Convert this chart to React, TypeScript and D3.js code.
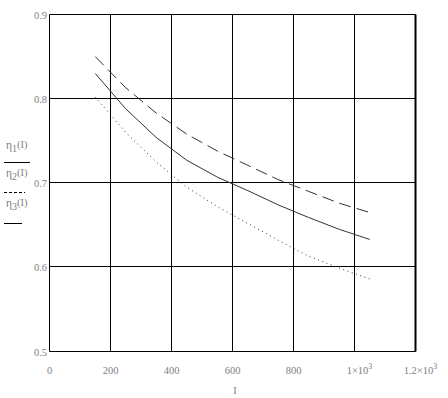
import React from "react";
import * as d3 from "d3";

// current values I
const currents = [150, 250, 350, 450, 550, 650, 750, 850, 950, 1050];
const eta1 = [0.83, 0.788, 0.754, 0.727, 0.707, 0.691, 0.674, 0.659, 0.645, 0.633];
const eta2 = [0.85, 0.813, 0.783, 0.758, 0.738, 0.721, 0.704, 0.69, 0.676, 0.665];
const eta3 = [0.802, 0.76, 0.725, 0.695, 0.672, 0.652, 0.632, 0.613, 0.599, 0.586];

const xTicks = [0, 200, 400, 600, 800, 1000, 1200];
const yTicks = [0.5, 0.6, 0.7, 0.8, 0.9];

const W = 448;
const H = 398;

const x = d3.scaleLinear().domain([0, 1200]).range([49.5, 415.5]);
const y = d3.scaleLinear().domain([0.5, 0.9]).range([351.5, 14.5]);

const labelColor = "#808080";
const font = "'Liberation Serif', 'DejaVu Serif', serif";

const xLabel = (v: number) => {
  if (v === 1000) return { base: "1×10", sup: "3" };
  if (v === 1200) return { base: "1.2×10", sup: "3" };
  return { base: String(v), sup: "" };
};

export default function App() {
  const line = (vals: number[]) =>
    d3
      .line<number>()
      .x((_, i) => x(currents[i]))
      .y((d) => y(d))(vals) || "";

  const series = [
    { vals: eta1, dash: undefined },
    { vals: eta2, dash: "12,6" },
    { vals: eta3, dash: "1,3.5" },
  ];

  return (
    <svg
      width={W}
      height={H}
      style={{ position: "absolute", left: 0, top: 0, background: "#fff" }}
      fontFamily={font}
    >
      {/* grid */}
      <g stroke="#000" strokeWidth={1}>
        {xTicks.map((t) => (
          <line key={"gx" + t} x1={Math.round(x(t)) - 0.5} x2={Math.round(x(t)) - 0.5} y1={y(0.9)} y2={y(0.5)} />
        ))}
        {yTicks.map((t) => (
          <line key={"gy" + t} x1={x(0)} x2={x(1200)} y1={Math.round(y(t)) - 0.5} y2={Math.round(y(t)) - 0.5} />
        ))}
        <line x1={x(1200)} x2={x(1200)} y1={y(0.9)} y2={y(0.5)} strokeWidth={2} />
      </g>

      {/* curves */}
      <g fill="none" stroke="#333" strokeWidth={1}>
        {series.map((s, i) => (
          <path key={i} d={line(s.vals)} strokeDasharray={s.dash} />
        ))}
      </g>

      {/* y tick labels */}
      <g fill={labelColor} fontSize={10.5} textAnchor="end">
        {yTicks.map((t) => (
          <text key={"yl" + t} x={47} y={y(t) + 4}>
            {t.toFixed(1)}
          </text>
        ))}
      </g>

      {/* x tick labels */}
      <g fill={labelColor} fontSize={10.5}>
        {xTicks.map((t) => {
          const l = xLabel(t);
          return (
            <text key={"xl" + t} x={x(t) + (l.sup ? 5 : 0)} y={374} textAnchor="middle">
              {l.base}
              {l.sup && (
                <tspan dy={-5} fontSize={8}>
                  {l.sup}
                </tspan>
              )}
            </text>
          );
        })}
        <text x={235} y={394} textAnchor="middle">I</text>
      </g>

      {/* legend */}
      <g fill={labelColor} fontSize={11.5}>
        {[
          { n: "1", yb: 149 },
          { n: "2", yb: 177 },
          { n: "3", yb: 207 },
        ].map((d) => (
          <text key={d.n} x={6} y={d.yb}>
            η<tspan dy={3} fontSize={10}>{d.n}</tspan>
            <tspan dy={-4} fontSize={10.5}>(I)</tspan>
          </text>
        ))}
      </g>
      <g stroke="#000" strokeWidth={1}>
        <line x1={4} x2={30} y1={162.5} y2={162.5} />
        <line x1={4} x2={25} y1={192.5} y2={192.5} strokeDasharray="3,2" />
        <line x1={4} x2={22} y1={223.5} y2={223.5} />
      </g>
    </svg>
  );
}
